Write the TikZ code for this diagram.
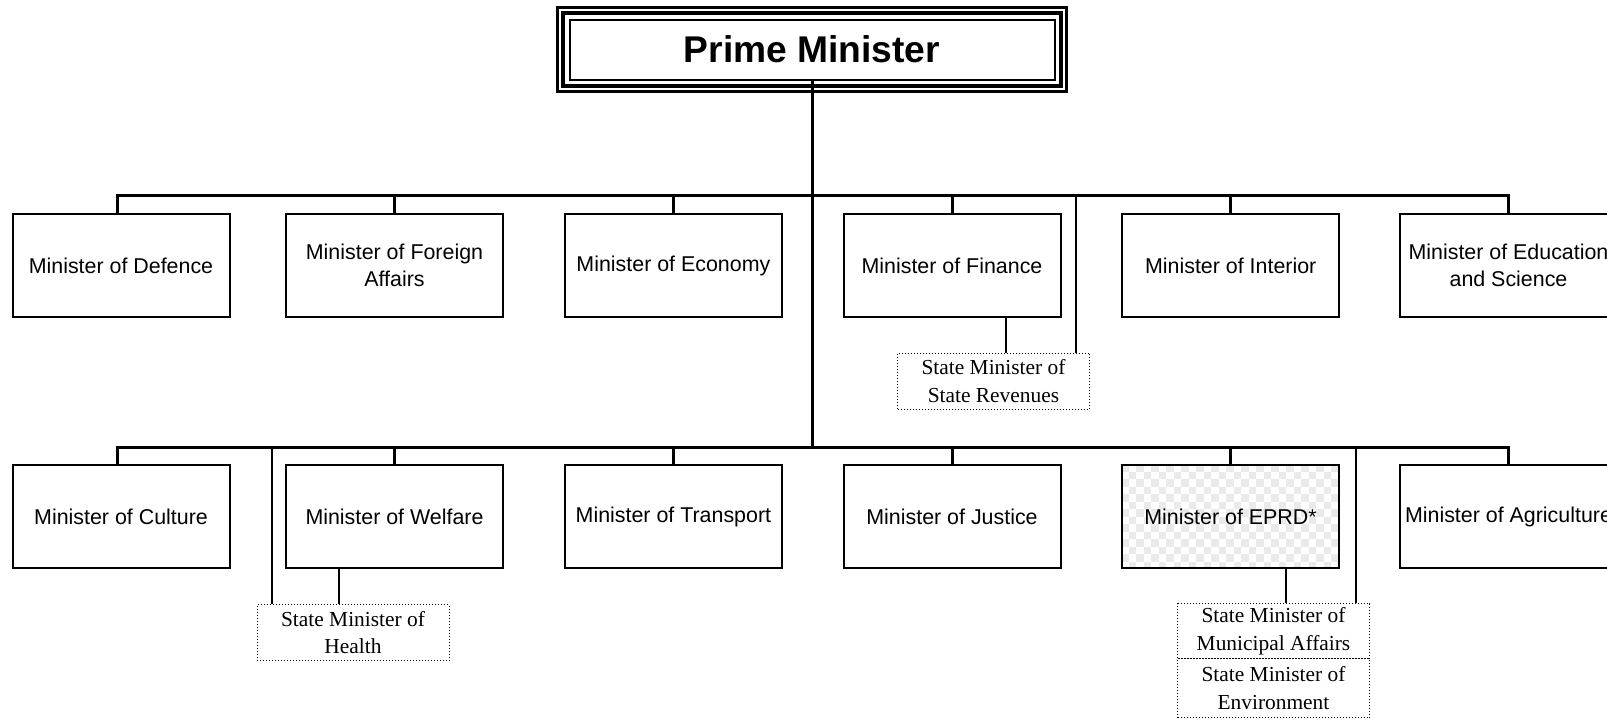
\documentclass[tikz,border=0pt]{standalone}
\usepackage{fontspec}
\newfontfamily\arialfont{Liberation Sans}
\newfontfamily\timesfont{Liberation Serif}
\usetikzlibrary{backgrounds}
\definecolor{checkgray}{RGB}{234,234,234}
\tikzset{
  minbox/.style={draw, line width=1pt, minimum width=108.5pt, minimum height=51.5pt,
    inner sep=0pt, align=center, font=\arialfont\fontsize{10.7}{13.3}\selectfont},
  statebox/.style={draw, line width=0.5pt, dash pattern=on 0.5pt off 1pt,
    minimum width=96pt, minimum height=28pt, inner sep=0pt, align=center,
    font=\timesfont\fontsize{10.7}{13.8}\selectfont},
  bus/.style={line width=1.5pt},
  link/.style={line width=1pt},
}
\begin{document}
\begin{tikzpicture}[x=0.5pt, y=-0.5pt] %[scale=0.8]
    \useasboundingbox (0,0) rectangle (1607,719);
    \node (pm) [draw, line width=1pt, minimum width=242.5pt, minimum height=30pt, inner sep=0pt,
      font=\arialfont\bfseries\fontsize{18.6}{22}\selectfont] at (812,49.5) {Prime Minister};
    \draw [line width=2pt] ([xshift=-2.75pt,yshift=2.75pt]pm.north west) rectangle ([xshift=2.75pt,yshift=-2.75pt]pm.south east);
    \draw [line width=1.5pt] ([xshift=-5.5pt,yshift=5.5pt]pm.north west) rectangle ([xshift=5.5pt,yshift=-5.5pt]pm.south east);
    % first row
    \node (def) [minbox] at (121,265.5) {Minister of Defence};
    \node (fa) [minbox] at (394.5,265.5) {Minister of Foreign\\Affairs};
    \node (eco) [minbox] at (673.4,265.5) {Minister of Economy};
    \node (fin) [minbox] at (952,265.5) {Minister of Finance};
    \node (int) [minbox] at (1230.7,265.5) {Minister of Interior};
    \node (edu) [minbox] at (1508.5,265.5) {Minister of Education\\and Science};
    \node (sr) [statebox] at (993.5,381) {State Minister of\\State Revenues};
    % second row
    \node (cul) [minbox] at (121,516.5) {Minister of Culture};
    \node (wel) [minbox] at (394.5,516.5) {Minister of Welfare};
    \node (tra) [minbox] at (673.4,516.5) {Minister of Transport};
    \node (jus) [minbox] at (952,516.5) {Minister of Justice};
    \node (eprd) [minbox] at (1230.5,516.5) {Minister of EPRD*};
    \node (agr) [minbox] at (1508.5,516.5) {Minister of Agriculture};
    \node (hea) [statebox] at (353,632.5) {State Minister of\\Health};
    \node (ma) [statebox, minimum height=27.5pt] at (1273.5,631) {State Minister of\\Municipal Affairs};
    \node (env) [statebox, minimum height=29.5pt] at (1273.5,688) {State Minister of\\Environment};
    \begin{scope}[on background layer]
      \clip (eprd.north west) rectangle (eprd.south east);
      \foreach \j in {0,...,13}
        \foreach \i in {0,2,...,28}
          \fill [checkgray] ([shift={({(\i+mod(\j,2))*7.5},{\j*7.5})}]eprd.north west) rectangle ++(7.5,7.5);
    \end{scope}
    % buses
    \coordinate (b1l) at (117,195.8);
    \coordinate (b1r) at (1508.5,195.8);
    \coordinate (b2l) at (117,447);
    \coordinate (b2r) at (1508.5,447);
    \draw [bus] (pm.south) -- (pm.south |- b2l);
    \draw [bus] (def.north -| b1l) -- (b1l) -- (b1r) -- (edu.north);
    \foreach \n in {fa,eco,fin,int}
      \draw [bus] (\n.north) -- (\n.north |- b1l);
    \draw [bus] (cul.north -| b2l) -- (b2l) -- (b2r) -- (agr.north);
    \foreach \n in {wel,tra,jus,eprd}
      \draw [bus] (\n.north) -- (\n.north |- b2l);
    % state ministers
    \coordinate (srtap) at ([xshift=-7pt]sr.north east);
    \coordinate (srin) at ([xshift=6pt]sr.north);
    \draw [link] (srtap) -- (srtap |- b1l);
    \draw [link] (srin) -- (srin |- fin.south);
    \coordinate (heatap) at ([xshift=7.8pt]hea.north west);
    \coordinate (heain) at ([xshift=-7pt]hea.north);
    \draw [link] (heatap) -- (heatap |- b2l);
    \draw [link] (heain) -- (heain |- wel.south);
    \coordinate (matap) at ([xshift=-7pt]ma.north east);
    \coordinate (main) at ([xshift=6pt]ma.north);
    \draw [link] (matap) -- (matap |- b2l);
    \draw [link] (main) -- (main |- eprd.south);
  \end{tikzpicture}
\end{document}
